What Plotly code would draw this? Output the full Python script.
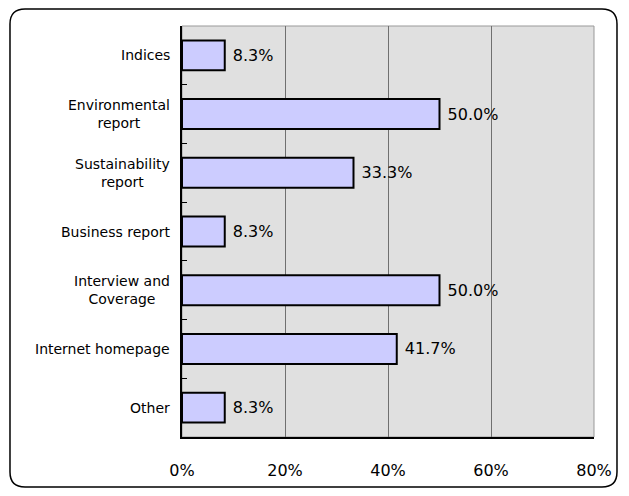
import plotly.graph_objects as go

categories = ['Indices', 'Environmental<br>report', 'Sustainability<br>report',
              'Business report', 'Interview and<br>Coverage', 'Internet homepage', 'Other']
shares = [8.3, 50.0, 33.3, 8.3, 50.0, 41.7, 8.3]
x_ticks = [0, 20, 40, 60, 80]
x_tick_labels = [f'{v}%' for v in x_ticks]

FONT = 'DejaVu Sans'

fig = go.Figure(go.Bar(
    x=shares,
    y=categories,
    orientation='h',
    marker=dict(color='#ccccff', line=dict(color='black', width=2)),
    texttemplate=' %{x:.1f}%',
    textposition='outside',
    textfont=dict(family=FONT, size=16, color='black'),
    cliponaxis=False,
))

# category labels as annotations so multi-line text is centred
for c in categories:
    fig.add_annotation(x=0, xref='paper', y=c, yref='y', text=c,
                       showarrow=False, xanchor='right', xshift=-10,
                       align='center', font=dict(family=FONT, size=14, color='black'))

# plot border (gray) and rounded outer frame
fig.add_shape(type='rect', xref='paper', yref='paper', x0=0, x1=1, y0=0, y1=1,
              line=dict(color='#999999', width=1), layer='below')
fig.add_shape(type='path', xref='paper', yref='paper',
              path='M -0.381,1.0414 L 1.0194,1.0414 Q 1.0558,1.0414 1.0558,1.0049 '
                   'L 1.0558,-0.0852 Q 1.0558,-0.1217 1.0194,-0.1217 '
                   'L -0.381,-0.1217 Q -0.4175,-0.1217 -0.4175,-0.0852 '
                   'L -0.4175,1.0049 Q -0.4175,1.0414 -0.381,1.0414 Z',
              line=dict(color='black', width=1.5))

# the page body adds an 8px offset, so the figure is 8px smaller on each axis
fig.update_layout(
    width=621, height=488,
    margin=dict(l=174, r=35, t=18, b=59),
    paper_bgcolor='white',
    plot_bgcolor='#e0e0e0',
    bargap=0.49,
    showlegend=False,
    font=dict(family=FONT, color='black'),
    xaxis=dict(range=[0, 80], tickvals=x_ticks, ticktext=x_tick_labels,
               showgrid=True, gridcolor='#707070', gridwidth=1,
               showline=True, linecolor='black', linewidth=1.5,
               zeroline=False, ticks='', ticklabelstandoff=18,
               tickfont=dict(family=FONT, size=16, color='black')),
    yaxis=dict(autorange='reversed', showticklabels=False,
               ticks='inside', tickson='boundaries', ticklen=5, tickcolor='black',
               showgrid=False, showline=True, linecolor='black', linewidth=1.5),
)

fig.write_html("out.html")
